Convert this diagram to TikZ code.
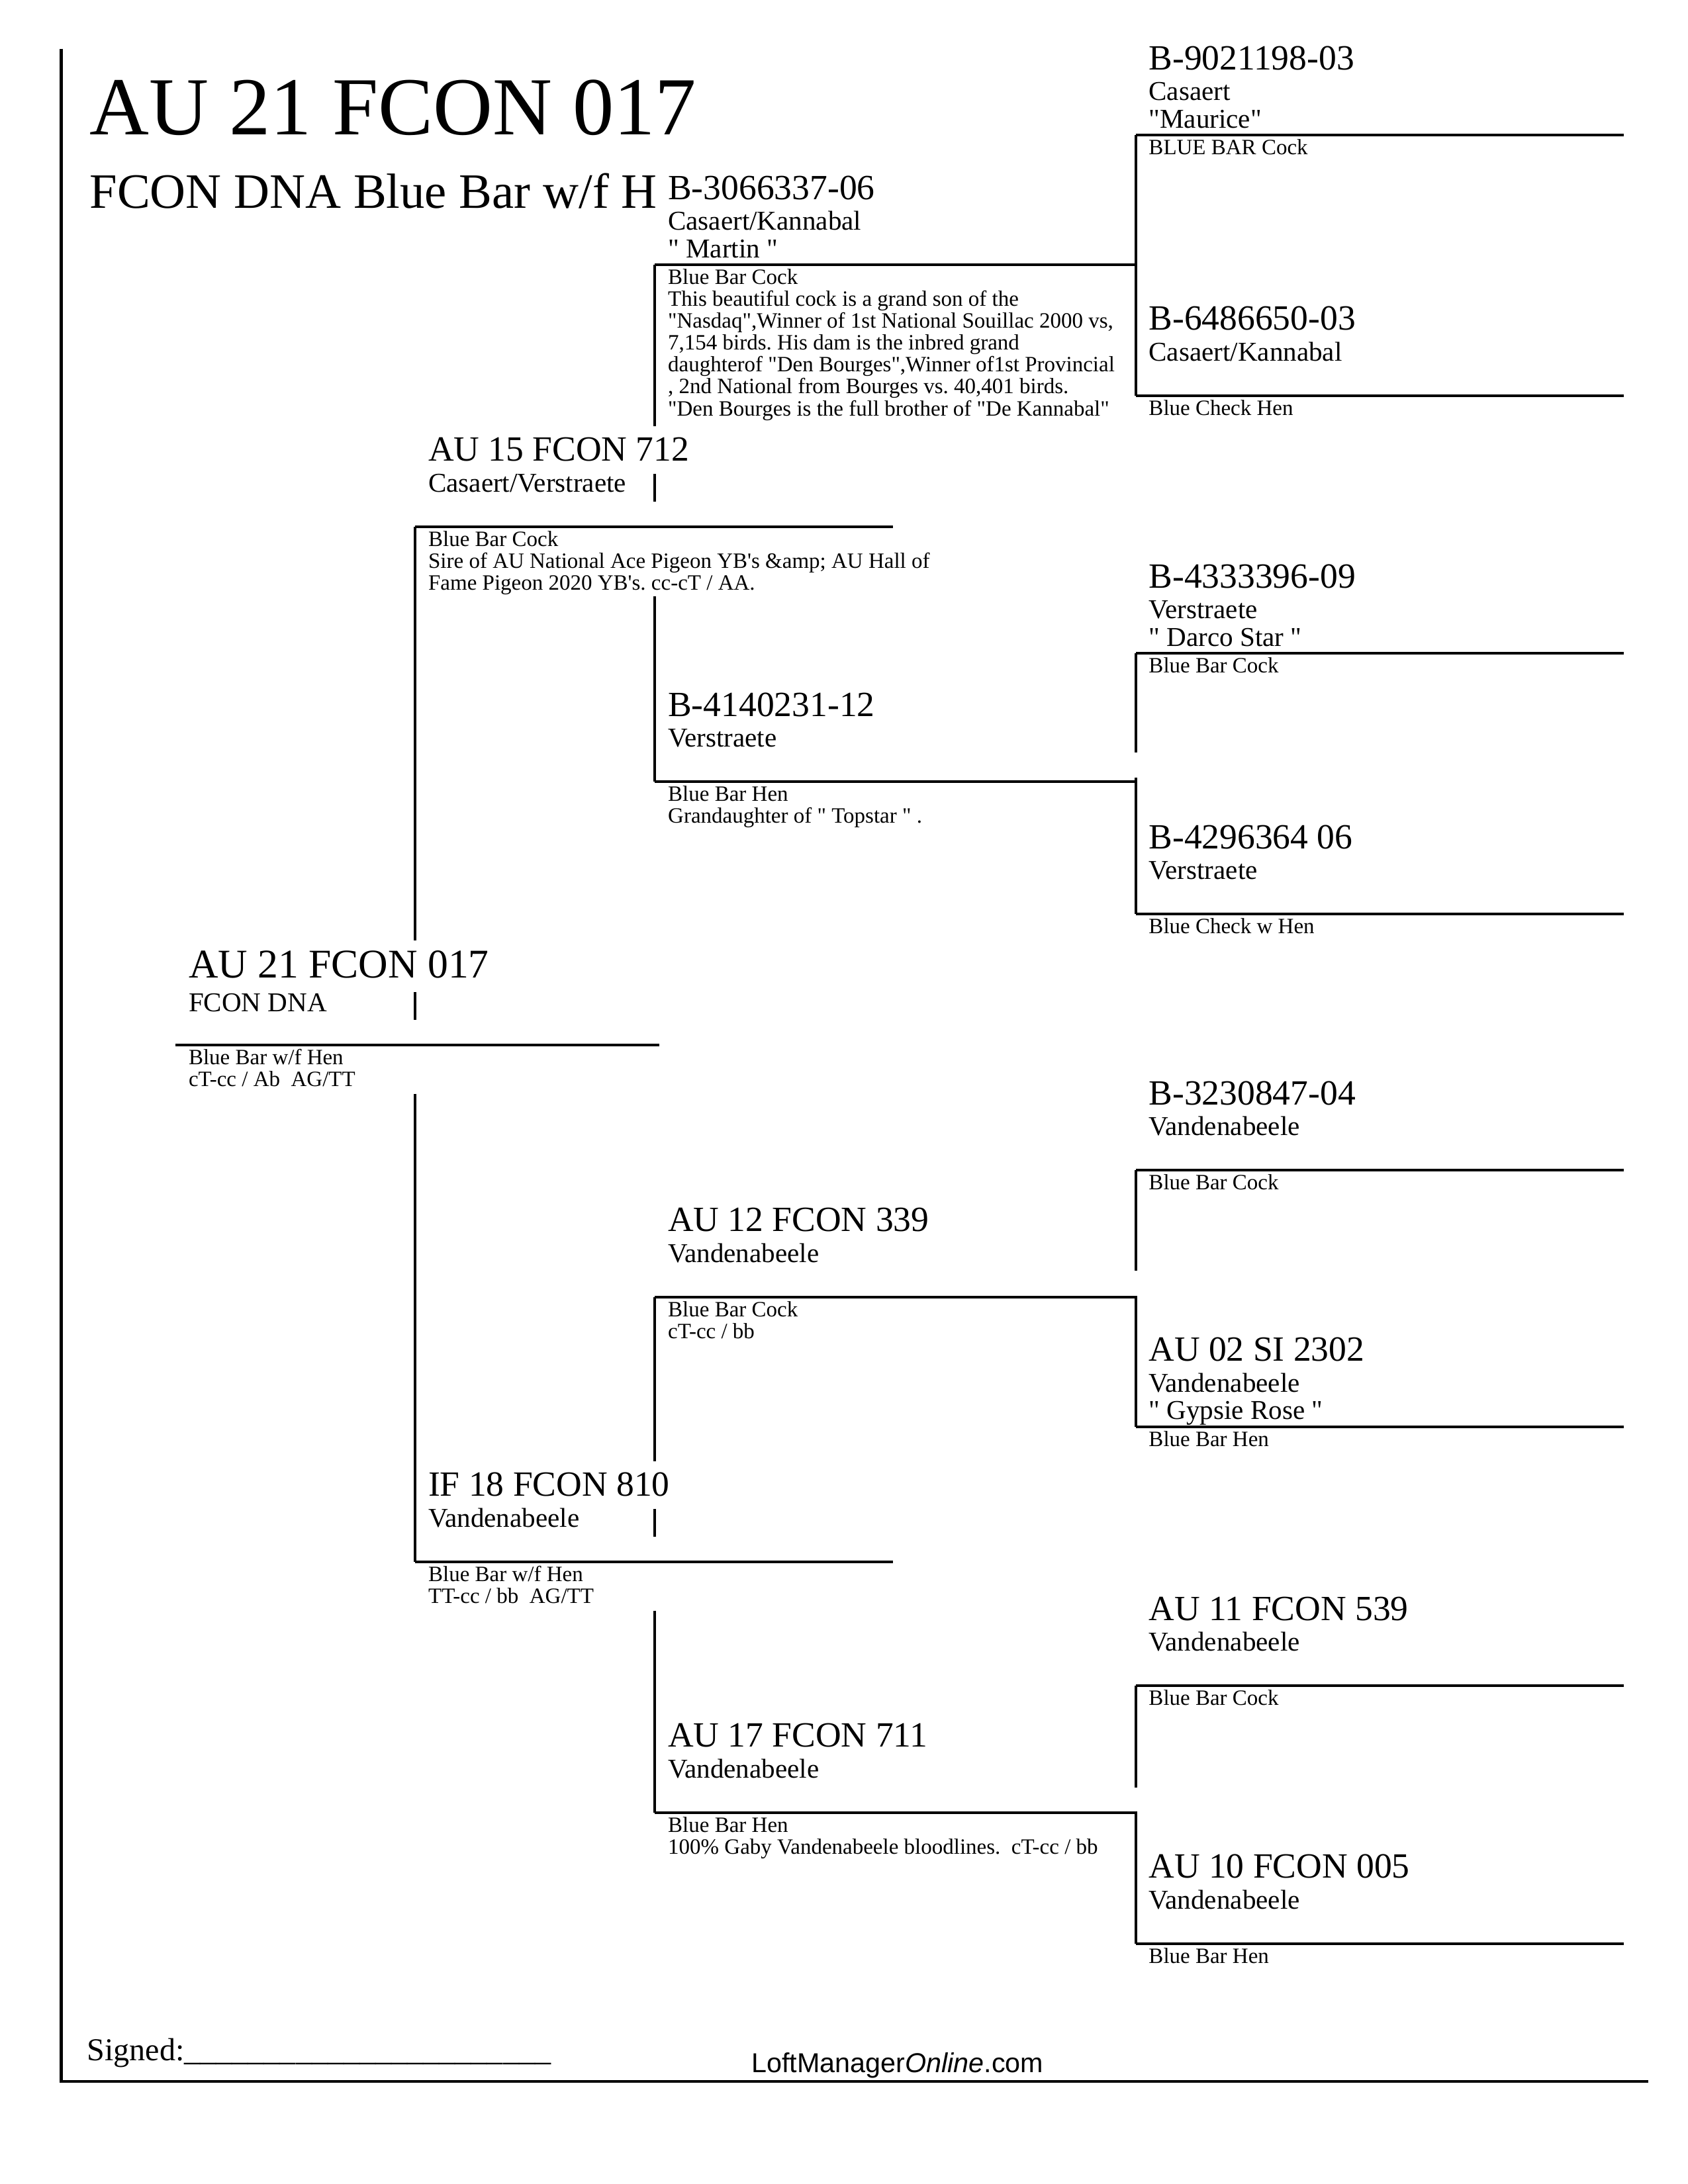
\documentclass[tikz,border=0pt]{standalone}
\usepackage{fontspec}
\setmainfont{Liberation Serif}[Ligatures=TeXOff]
\newfontfamily\loftfont{Liberation Sans}
\usetikzlibrary{calc}
\frenchspacing

\tikzset{
  bar/.style={line width=0.95bp},
  band/.style={anchor=base west, inner sep=0pt, font=\fontsize{12.9}{14}\selectfont},
  strain/.style={anchor=base west, inner sep=0pt, font=\fontsize{9.9}{10.1}\selectfont},
  note/.style={anchor=base west, inner sep=0pt, font=\fontsize{7.95}{7.95}\selectfont},
}

\newcommand{\birdlines}[1]{\begin{tabular}[t]{@{}l@{}}#1\end{tabular}}

\newcommand{\bird}[7]{%
  \coordinate (#1-l) at (#2,#4);
  \coordinate (#1-r) at (#3,#4);
  \draw[bar] (#1-l) -- (#1-r);
  \node[band] (#1) at ($(#1-l)+(9,-47)$) {#5};
  \node[strain] (#1-strain) at ($(#1-l)+(9,-25)$) {\birdlines{#6}};
  \node[note] (#1-note) at ($(#1-l)+(9,14)$) {\birdlines{#7}};
}

\begin{document}
\begin{tikzpicture}[x=0.50525bp, y=-0.50525bp]
  \useasboundingbox (0,0) rectangle (1211.3,1567.6);
  \draw[line width=1.1bp] (44,35) -- (44,1494) -- (1183,1494);

  \node[anchor=base west, inner sep=0pt, font=\fontsize{30}{32}\selectfont] (title) at (64,96.6) {AU 21 FCON 017};
  \node[anchor=base west, inner sep=0pt, font=\fontsize{18}{20}\selectfont] (subtitle) at (64,149.6) {FCON DNA Blue Bar w/f H};

  \bird{sss}{815}{1165}{97}{B-9021198-03}{Casaert\\"Maurice"}{BLUE BAR Cock}
  \bird{ssd}{815}{1165}{284}{B-6486650-03}{Casaert/Kannabal}{Blue Check Hen}
  \bird{sds}{815}{1165}{469}{B-4333396-09}{Verstraete\\" Darco Star "}{Blue Bar Cock}
  \bird{sdd}{815}{1165}{656}{B-4296364 06}{Verstraete}{Blue Check w Hen}
  \bird{dss}{815}{1165}{840}{B-3230847-04}{Vandenabeele}{Blue Bar Cock}
  \bird{dsd}{815}{1165}{1024}{AU 02 SI 2302}{Vandenabeele\\" Gypsie Rose "}{Blue Bar Hen}
  \bird{dds}{815}{1165}{1210}{AU 11 FCON 539}{Vandenabeele}{Blue Bar Cock}
  \bird{ddd}{815}{1165}{1395}{AU 10 FCON 005}{Vandenabeele}{Blue Bar Hen}

  \bird{ss}{470}{815}{190}{B-3066337-06}{Casaert/Kannabal\\" Martin "}{Blue Bar Cock\\This beautiful cock is a grand son of the\\"Nasdaq",Winner of 1st National Souillac 2000 vs,\\7,154 birds. His dam is the inbred grand\\daughterof "Den Bourges",Winner of1st Provincial\\, 2nd National from Bourges vs. 40,401 birds.\\"Den Bourges is the full brother of "De Kannabal"}
  \bird{sd}{470}{815}{561}{B-4140231-12}{Verstraete}{Blue Bar Hen\\Grandaughter of " Topstar " .}
  \bird{ds}{470}{815}{931}{AU 12 FCON 339}{Vandenabeele}{Blue Bar Cock\\cT-cc / bb}
  \bird{dd}{470}{815}{1301}{AU 17 FCON 711}{Vandenabeele}{Blue Bar Hen\\100\% Gaby Vandenabeele bloodlines.~ cT-cc / bb}

  \bird{sire}{298}{641}{378}{AU 15 FCON 712}{Casaert/Verstraete}{Blue Bar Cock\\Sire of AU National Ace Pigeon YB's \&amp; AU Hall of\\Fame Pigeon 2020 YB's. cc-cT / AA.}
  \bird{dam}{298}{641}{1121}{IF 18 FCON 810}{Vandenabeele}{Blue Bar w/f Hen\\TT-cc / bb~ AG/TT}

  \coordinate (bird-l) at (126,750);
  \coordinate (bird-r) at (473,750);
  \draw[bar] (bird-l) -- (bird-r);
  \node[band, font=\fontsize{14.85}{16}\selectfont] (bird) at ($(bird-l)+(9,-48)$) {AU 21 FCON 017};
  \node[strain] (bird-strain) at ($(bird-l)+(9,-24)$) {FCON DNA};
  \node[note] (bird-note) at ($(bird-l)+(9,14)$) {\birdlines{Blue Bar w/f Hen\\cT-cc / Ab~ AG/TT}};

  \draw[bar] (sss-l) -- (ssd-l);
  \draw[bar, dash pattern=on 35.87bp off 9.09bp on 49.51bp] (sds-l) -- (sdd-l);
  \draw[bar, dash pattern=on 36.38bp off 9.09bp on 47.49bp] (dss-l) -- (dsd-l);
  \draw[bar, dash pattern=on 36.88bp off 8.59bp on 48bp] (dds-l) -- (ddd-l);
  \draw[bar, dash pattern=on 58.61bp off 17.18bp on 10.11bp off 34.36bp on 67.2bp] (ss-l) -- (sd-l);
  \draw[bar, dash pattern=on 59.62bp off 17.18bp on 10.11bp off 26.78bp on 73.26bp] (ds-l) -- (dd-l);
  \draw[bar, dash pattern=on 150.06bp off 18.69bp on 10.11bp off 26.78bp on 169.76bp] (sire-l) -- (dam-l);

  \node[anchor=base west, inner sep=0pt, font=\fontsize{11.6}{13}\selectfont] (signed) at (62,1479) {Signed:\_\_\_\_\_\_\_\_\_\_\_\_\_\_\_\_\_\_\_\_\_\_\_};
  \node[anchor=base west, inner sep=0pt, font=\loftfont\fontsize{9.95}{11}\selectfont] (loft) at (539,1487.6) {LoftManager\textit{Online}.com};
\end{tikzpicture}
\end{document}
